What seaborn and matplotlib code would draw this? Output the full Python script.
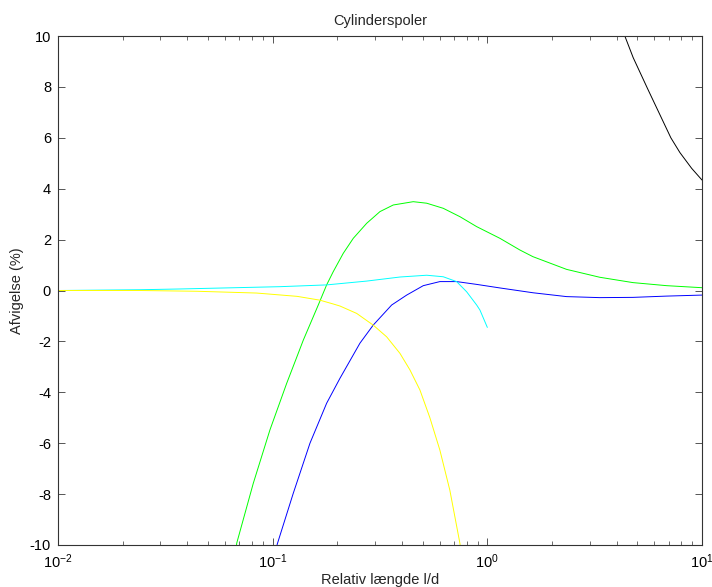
import numpy as np
import pandas as pd
import matplotlib
matplotlib.use("Agg")
import matplotlib.pyplot as plt
import seaborn as sns

# values (x = l/d, y = deviation in %)
black_x = [4.30, 4.37, 4.78, 5.6, 7.16, 7.89, 8.95, 10.0]
black_y = [10.15, 10.0, 9.15, 7.9, 6.0, 5.42, 4.8, 4.34]

blue_x = [0.104, 0.105, 0.1247, 0.1492, 0.1784, 0.2058, 0.255, 0.294, 0.3584,
          0.421, 0.503, 0.601, 0.7194, 0.8917, 1.145, 1.636, 2.34, 3.34,
          4.77, 6.84, 10.0]
blue_y = [-10.2, -9.97, -7.97, -6.0, -4.43, -3.45, -2.07, -1.36, -0.57,
          -0.18, 0.19, 0.35, 0.35, 0.24, 0.10, -0.09, -0.24, -0.28,
          -0.27, -0.22, -0.18]

green_x = [0.0675, 0.068, 0.0812, 0.0971, 0.1162, 0.128, 0.1389, 0.1631,
           0.1784, 0.1915, 0.2132, 0.2374, 0.2741, 0.3161, 0.3645, 0.4518,
           0.5217, 0.6231, 0.7455, 0.8917, 1.1446, 1.419, 1.63, 2.34, 3.34,
           4.77, 6.84, 10.0]
green_y = [-10.2, -9.93, -7.58, -5.48, -3.65, -2.73, -1.95, -0.57,
           0.22, 0.74, 1.46, 2.05, 2.64, 3.10, 3.36, 3.49,
           3.43, 3.23, 2.90, 2.51, 2.05, 1.59, 1.33, 0.83, 0.52,
           0.31, 0.19, 0.11]

cyan_x = [0.01, 0.0241, 0.037, 0.108, 0.134, 0.1784, 0.2741, 0.3917, 0.5217,
          0.6231, 0.7194, 0.801, 0.8917, 0.924, 1.0]
cyan_y = [0.0, 0.03, 0.06, 0.15, 0.18, 0.22, 0.37, 0.53, 0.60,
          0.54, 0.35, -0.05, -0.57, -0.77, -1.45]

yellow_x = [0.01, 0.0241, 0.0443, 0.0842, 0.13, 0.166, 0.1915, 0.2058, 0.2462,
            0.294, 0.3396, 0.3917, 0.436, 0.4853, 0.540, 0.601, 0.669, 0.745,
            0.755]
yellow_y = [0.0, 0.0, -0.03, -0.1, -0.23, -0.38, -0.53, -0.61, -0.9,
            -1.36, -1.82, -2.47, -3.12, -3.91, -5.0, -6.27, -7.85, -9.93,
            -10.3]

series = {
    "black": (black_x, black_y),
    "blue": (blue_x, blue_y),
    "green": (green_x, green_y),
    "cyan": (cyan_x, cyan_y),
    "yellow": (yellow_x, yellow_y),
}
colors = {"black": "#000000", "blue": "#0000ff", "green": "#00ff00",
          "cyan": "#00ffff", "yellow": "#ffff00"}

frames = []
for name, (xs, ys) in series.items():
    frames.append(pd.DataFrame({"x": xs, "y": ys, "curve": name}))
df = pd.concat(frames, ignore_index=True)

sns.set_style("ticks")
plt.rcParams['font.family'] = ['Liberation Sans', 'DejaVu Sans']
plt.rcParams['axes.unicode_minus'] = False

fig = plt.figure(figsize=(7.12, 5.87), dpi=100)
ax = fig.add_axes([58 / 712, 42 / 587, 644 / 712, 509 / 587])

sns.lineplot(data=df, x="x", y="y", hue="curve", palette=colors,
             estimator=None, sort=False, linewidth=0.7, legend=False, ax=ax)

ax.set_xscale("log")
ax.set_xlim(1e-2, 1e1)
ax.set_ylim(-10, 10)
ax.set_yticks(np.arange(-10, 11, 2))

ax.set_title("Cylinderspoler", fontsize=10.5, pad=8)
ax.set_xlabel("Relativ længde l/d", fontsize=10.5, labelpad=2)
ax.set_ylabel("Afvigelse (%)", fontsize=10.5, labelpad=4)

for side in ["top", "right", "bottom", "left"]:
    ax.spines[side].set_visible(True)
    ax.spines[side].set_color("#333333")
    ax.spines[side].set_linewidth(0.8)

ax.tick_params(which="both", direction="in", top=True, right=True,
               color="#555555", labelsize=10.5, labelcolor="black", pad=5)
ax.tick_params(which="major", length=5, width=0.7)
ax.tick_params(which="minor", length=3, width=0.6)

fig.savefig("out.png", dpi=100, facecolor="white")
